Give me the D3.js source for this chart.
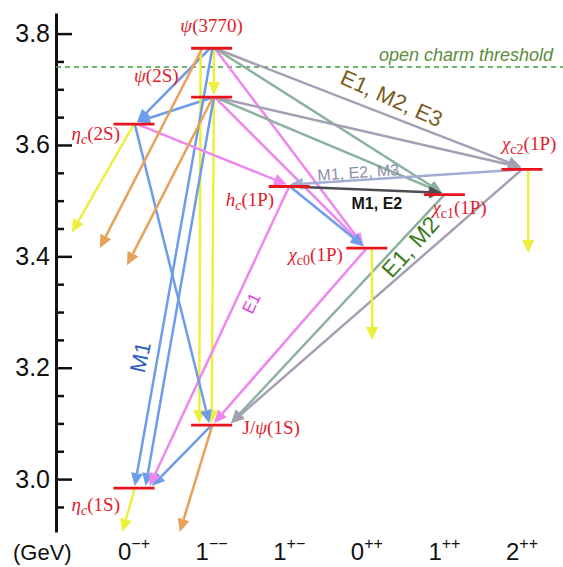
<!DOCTYPE html>
<html>
<head>
<meta charset="utf-8">
<script src="https://cdn.jsdelivr.net/npm/d3@7"></script>
<style>
  html, body { margin: 0; padding: 0; background: #fff; }
  svg { display: block; }
</style>
</head>
<body>
<svg id="chart" width="563" height="567"></svg>
<script>
// J^PC columns along the bottom
const jpcDigits = ["0", "1", "1", "0", "1", "2"];
const jpcSigns = ["\u2212+", "\u2212\u2212", "+\u2212", "++", "++", "++"];

// charmonium states: column and mass (GeV)
const stateIds = ["etac1S", "jpsi", "etac2S", "psi2S", "psi3770", "hc", "chic0", "chic1", "chic2"];
const stateCols = [0, 1, 0, 1, 1, 2, 3, 4, 5];
const stateMasses = [2.9839, 3.0969, 3.6375, 3.6861, 3.7737, 3.5254, 3.4147, 3.5107, 3.5562];

const thresholdMass = 3.74;
const majorTicks = [3.0, 3.2, 3.4, 3.6, 3.8];
const minorTicks = [2.95, 3.05, 3.1, 3.15, 3.25, 3.3, 3.35, 3.45, 3.5, 3.55, 3.65, 3.7, 3.75];

// transitions between states: from, to, kind, start offset, end offset (column units)
const transitions = [
  ["psi3770", "etac2S", "blue", -0.02, 0.04],
  ["psi2S", "etac2S", "blue", 0.03, 0.04],
  ["psi3770", "psi2S", "yellow", 0.03, 0.03],
  ["psi3770", "jpsi", "yellow", -0.14, -0.16],
  ["psi2S", "jpsi", "yellow", 0.03, 0.0],
  ["psi3770", "etac1S", "blue", 0.01, 0.01],
  ["psi2S", "etac1S", "blue", 0.03, 0.15],
  ["jpsi", "etac1S", "blue", 0.0, 0.23],
  ["hc", "etac1S", "pink", 0.0, 0.2],
  ["etac2S", "jpsi", "blue", 0.01, -0.03],
  ["etac2S", "hc", "pink", 0.04, -0.03],
  ["psi3770", "chic0", "pink", 0.04, -0.04],
  ["psi2S", "chic0", "pink", 0.04, -0.04],
  ["hc", "chic0", "blue", 0.01, -0.04],
  ["psi3770", "chic1", "green", 0.04, -0.03],
  ["psi2S", "chic1", "green", 0.04, -0.03],
  ["psi3770", "chic2", "gray", 0.04, -0.01],
  ["psi2S", "chic2", "gray", 0.04, -0.01],
  ["chic2", "hc", "slate", 0.0, 0.01],
  ["hc", "chic1", "dark", 0.01, -0.03],
  ["chic0", "jpsi", "pink", 0.0, 0.03],
  ["chic1", "jpsi", "green", 0.0, 0.25],
  ["chic2", "jpsi", "gray", 0.0, 0.25]
];

// decays leaving the diagram: from, kind, start offset, end column, end mass
const decays = [
  ["etac2S", "yellow", 0.0, -0.80, 3.443],
  ["psi3770", "orange", -0.12, -0.44, 3.415],
  ["psi2S", "orange", 0.02, -0.09, 3.384],
  ["jpsi", "orange", 0.01, 0.59, 2.905],
  ["etac1S", "yellow", 0.01, -0.15, 2.905],
  ["chic0", "yellow", 0.065, 3.07, 3.25],
  ["chic2", "yellow", 0.08, 5.08, 3.406]
];

const kindColors = {
  blue: "#6d9ceb", yellow: "#eeee3c", orange: "#e8a158", pink: "#ee88ee",
  gray: "#a49fb3", green: "#8cb1a0", slate: "#a3acd2", dark: "#4c4c55"
};

// transition type notes: text, colour, column, mass, angle, size, weight
const notes = [
  ["E1, M2, E3", "#7b5a22", 3.32, 3.684, 24, 22, 400],
  ["M1, E2, M3", "#8a8ea6", 2.89, 3.551, -4, 16, 400],
  ["M1, E2", "#151515", 3.13, 3.496, 0, 16, 600],
  ["E1, M2", "#3d7a1f", 3.56, 3.417, -48, 23, 400],
  ["E1", "#dd3cdd", 1.51, 3.316, -64, 17, 400],
  ["M1", "#2c62c2", 0.08, 3.219, -78, 22, 400]
];

// state names as pieces: text, style (i = italic, n = upright, s = subscript)
const stateNames = {
  etac1S: [["\u03b7", "i"], ["c", "si"], ["(1S)", "n"]],
  jpsi: [["J/", "n"], ["\u03c8", "i"], ["(1S)", "n"]],
  etac2S: [["\u03b7", "i"], ["c", "si"], ["(2S)", "n"]],
  psi2S: [["\u03c8", "i"], ["(2S)", "n"]],
  psi3770: [["\u03c8", "i"], ["(3770)", "n"]],
  hc: [["h", "i"], ["c", "si"], ["(1P)", "n"]],
  chic0: [["\u03c7", "i"], ["c0", "s"], ["(1P)", "n"]],
  chic1: [["\u03c7", "i"], ["c1", "s"], ["(1P)", "n"]],
  chic2: [["\u03c7", "i"], ["c2", "s"], ["(1P)", "n"]]
};
// where the name sits next to its level: anchor, dx (px), dy (px)
const namePlacement = {
  etac1S: ["end", -14, 23], jpsi: ["start", 31, 9], etac2S: ["end", -14, 16],
  psi2S: ["end", -33, -15], psi3770: ["middle", 0, -16], hc: ["end", -15, 19],
  chic0: ["end", -24, 13], chic1: ["start", -12, 19], chic2: ["start", -20, -19]
};

const svg = d3.select("#chart");
const width = 563;

const y = d3.scaleLinear().domain([2.905, 3.837]).range([532, 13]);
const x = d3.scaleLinear().domain([0, 5]).range([134, 522]);
const axisX = 56;
const halfBar = 20.5;

const states = {};
stateIds.forEach((id, i) => {
  states[id] = { col: stateCols[i], mass: stateMasses[i] };
});

// y axis
const axisG = svg.append("g").attr("transform", `translate(${axisX},0)`);
axisG.call(d3.axisLeft(y).tickValues(majorTicks).tickSizeInner(-16).tickSizeOuter(0)
  .tickPadding(6).tickFormat(d3.format(".1f")));
axisG.select(".domain").attr("stroke", "#111").attr("stroke-width", 3);
axisG.selectAll(".tick line").attr("stroke", "#111").attr("stroke-width", 2.5);
axisG.selectAll(".tick text")
  .attr("font-family", "Liberation Sans, Arial, sans-serif")
  .attr("font-size", 25).attr("fill", "#111");
const minorG = svg.append("g").attr("transform", `translate(${axisX},0)`);
minorG.call(d3.axisRight(y).tickValues(minorTicks).tickSize(8).tickFormat(""));
minorG.select(".domain").remove();
minorG.selectAll(".tick line").attr("stroke", "#111").attr("stroke-width", 2.5);

// open charm threshold
svg.append("line")
  .attr("x1", axisX).attr("x2", width)
  .attr("y1", y(thresholdMass)).attr("y2", y(thresholdMass))
  .attr("stroke", "#3f9f3f").attr("stroke-width", 1.5)
  .attr("stroke-dasharray", "5,4");
svg.append("text")
  .attr("x", 553).attr("y", y(thresholdMass) - 6)
  .attr("text-anchor", "end")
  .attr("font-family", "Liberation Sans, Arial, sans-serif")
  .attr("font-style", "italic").attr("font-size", 18)
  .attr("fill", "#5b8c3b")
  .text("open charm threshold");

// arrows
const arrowG = svg.append("g");
function drawArrow(x1, y1, x2, y2, color) {
  const ang = Math.atan2(y2 - y1, x2 - x1);
  const L = 13, W = 6;
  const bx = x2 - L * Math.cos(ang), by = y2 - L * Math.sin(ang);
  arrowG.append("line")
    .attr("x1", x1).attr("y1", y1).attr("x2", bx).attr("y2", by)
    .attr("stroke", color).attr("stroke-width", 2.5);
  const px = -Math.sin(ang) * W, py = Math.cos(ang) * W;
  arrowG.append("path")
    .attr("d", `M${x2},${y2}L${bx + px},${by + py}L${bx - px},${by - py}Z`)
    .attr("fill", color);
}

transitions.forEach(([from, to, kind, d0, d1]) => {
  const a = states[from], b = states[to];
  const x1 = x(a.col + d0), y1 = y(a.mass);
  const x2 = x(b.col + d1);
  const y2 = y(b.mass) + (b.mass > a.mass ? 2 : -2);
  drawArrow(x1, y1, x2, y2, kindColors[kind]);
});

decays.forEach(([from, kind, d0, endCol, endMass]) => {
  const a = states[from];
  drawArrow(x(a.col + d0), y(a.mass), x(endCol), y(endMass), kindColors[kind]);
});

// levels
svg.append("g").selectAll("line")
  .data(stateIds)
  .join("line")
  .attr("x1", d => x(states[d].col) - halfBar)
  .attr("x2", d => x(states[d].col) + halfBar)
  .attr("y1", d => y(states[d].mass))
  .attr("y2", d => y(states[d].mass))
  .attr("stroke", "#e8141c").attr("stroke-width", 2.8);

// level names
stateIds.forEach(id => {
  const [anchor, dx, dy] = namePlacement[id];
  const t = svg.append("text")
    .attr("x", x(states[id].col) + dx)
    .attr("y", y(states[id].mass) + dy)
    .attr("text-anchor", anchor)
    .attr("font-family", "Liberation Serif, Times New Roman, serif")
    .attr("font-size", 19).attr("fill", "#e0202a");
  let shifted = false;
  stateNames[id].forEach(([txt, style]) => {
    const sp = t.append("tspan").text(txt);
    if (style === "i" || style === "si") sp.attr("font-style", "italic");
    if (style === "s" || style === "si") {
      sp.attr("font-size", 14).attr("dy", 4);
      shifted = true;
    } else if (shifted) {
      sp.attr("dy", -4);
      shifted = false;
    }
  });
});

// transition type notes
notes.forEach(([txt, color, col, mass, angle, size, weight]) => {
  svg.append("text")
    .attr("transform", `translate(${x(col)},${y(mass)}) rotate(${angle})`)
    .attr("text-anchor", "middle").attr("dy", "0.35em")
    .attr("font-family", "Liberation Sans, Arial, sans-serif")
    .attr("font-size", size).attr("font-weight", weight)
    .attr("fill", color)
    .text(txt);
});

// bottom labels
const bottomY = 560;
svg.append("text")
  .attr("x", 13).attr("y", bottomY)
  .attr("font-family", "Liberation Sans, Arial, sans-serif")
  .attr("font-size", 22).attr("fill", "#111")
  .text("(GeV)");
jpcDigits.forEach((dgt, i) => {
  const t = svg.append("text")
    .attr("x", x(i)).attr("y", bottomY)
    .attr("text-anchor", "middle")
    .attr("font-family", "Liberation Sans, Arial, sans-serif")
    .attr("font-size", 24).attr("fill", "#111");
  t.append("tspan").text(dgt);
  t.append("tspan").attr("font-size", 16).attr("dy", -11).text(jpcSigns[i]);
});
</script>
</body>
</html>
